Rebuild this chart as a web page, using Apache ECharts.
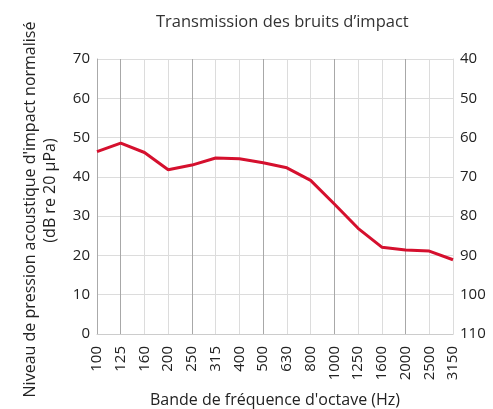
<!DOCTYPE html>
<html>
<head>
<meta charset="utf-8">
<script src="https://cdn.jsdelivr.net/npm/echarts@6/dist/echarts.min.js"></script>
<style>
  html, body { margin: 0; padding: 0; background: #fff; }
  #chart { width: 493px; height: 409px; }
</style>
</head>
<body>
<div id="chart"></div>
<script>
const frequencies = ['100', '125', '160', '200', '250', '315', '400', '500', '630', '800', '1000', '1250', '1600', '2000', '2500', '3150'];
const impactLevel = [46.4, 48.6, 46.2, 41.8, 43.0, 44.8, 44.6, 43.6, 42.3, 39.1, 33.1, 26.9, 22.1, 21.4, 21.1, 18.9];

const font = 'Open Sans';
let myChart = echarts.init(document.getElementById('chart'));

const option = {
    animation: false,
    title: {
        text: 'Transmission des bruits d’impact',
        left: 151,
        top: 9,
        textStyle: {
            fontFamily: font,
            fontSize: 16.5,
            fontWeight: 'normal',
            color: '#333',
        },
    },
    grid: {
        left: 97,
        right: 40,
        top: 59,
        bottom: 75,
        outerBoundsMode: 'none',
    },
    xAxis: {
        type: 'category',
        data: frequencies,
        boundaryGap: false,
        name: "Bande de fréquence d'octave (Hz)",
        nameLocation: 'middle',
        nameGap: 58,
        nameTextStyle: {fontFamily: font, fontSize: 16, color: '#222'},
        axisLine: {lineStyle: {color: '#ccc', width: 1}},
        axisTick: {show: false},
        axisLabel: {
            rotate: 90,
            interval: 0,
            margin: 12,
            fontFamily: font,
            fontSize: 15,
            color: '#222',
        },
        splitLine: {
            show: true,
            interval: 0,
            lineStyle: {color: ['#dcdcdc', '#a8a8a8', '#dcdcdc'], width: 1},
        },
    },
    yAxis: [
        {
            type: 'value',
            min: 0,
            max: 70,
            interval: 10,
            name: "{a|Niveau de pression acoustique d'impact normalisé}\n{b|(dB re 20 µPa)}",
            nameLocation: 'middle',
            nameGap: 37,
            nameTextStyle: {
                fontFamily: font,
                fontSize: 16,
                color: '#222',
                lineHeight: 20,
                padding: [0, 26, 0, 0],
                rich: {
                    a: {fontFamily: font, fontSize: 16, color: '#222', lineHeight: 20},
                    b: {fontFamily: font, fontSize: 16, color: '#222', lineHeight: 20, padding: [0, 0, 0, 38]},
                },
            },
            axisLine: {show: true, lineStyle: {color: '#aaa'}},
            axisTick: {show: false},
            axisLabel: {fontFamily: font, fontSize: 15, color: '#222', margin: 7},
            splitLine: {lineStyle: {color: '#dcdcdc'}},
        },
        {
            type: 'value',
            min: 40,
            max: 110,
            interval: 10,
            inverse: true,
            position: 'right',
            axisLine: {show: true, lineStyle: {color: '#dcdcdc'}},
            axisTick: {show: false},
            axisLabel: {fontFamily: font, fontSize: 15, color: '#222', margin: 7},
            splitLine: {show: false},
        },
    ],
    series: [
        {
            type: 'line',
            data: impactLevel,
            yAxisIndex: 0,
            symbol: 'none',
            color: '#d5102e',
            lineStyle: {width: 3},
        },
    ],
};

myChart.setOption(option);
</script>
</body>
</html>
